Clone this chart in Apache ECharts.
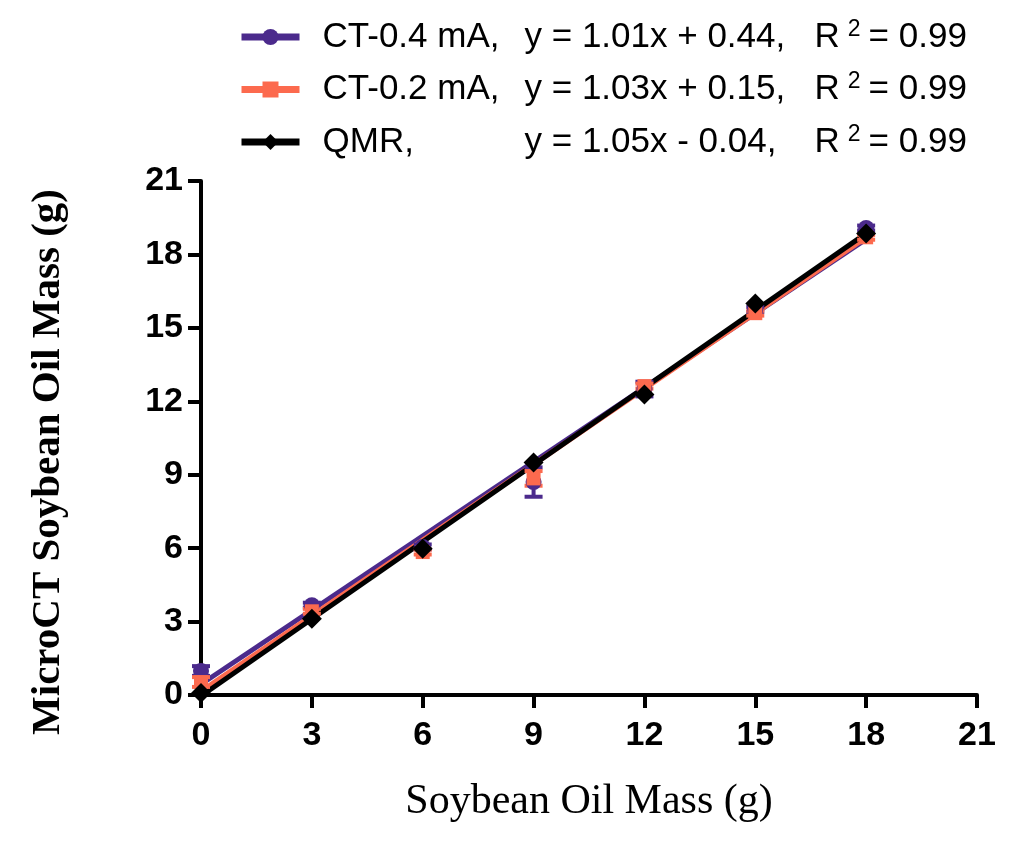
<!DOCTYPE html>
<html>
<head>
<meta charset="utf-8">
<script src="https://cdn.jsdelivr.net/npm/echarts@6/dist/echarts.min.js"></script>
<style>
  html, body { margin: 0; padding: 0; background: #fff; }
  #chart { width: 1024px; height: 849px; }
</style>
</head>
<body>
<div id="chart"></div>
<script>
// values
var seriesNames = ['CT-0.4 mA', 'CT-0.2 mA', 'QMR'];
var fitEquations = ['y = 1.01x + 0.44', 'y = 1.03x + 0.15', 'y = 1.05x - 0.04'];
var rSquared = ['0.99', '0.99', '0.99'];
var colors = ['#4b2a8c', '#fc6a4e', '#000000'];
var symbols = ['circle', 'rect', 'diamond'];
var symbolSizes = [16, 14, 20];

var xValues = [0, 3, 6, 9, 12, 15, 18];
var ct04 = [0.98, 3.67, 6.05, 8.7, 12.5, 15.75, 19.08];
var ct02 = [0.53, 3.42, 5.84, 8.85, 12.62, 15.6, 18.7];
var qmr = [0.08, 3.12, 5.98, 9.5, 12.28, 16.0, 18.85];
var ct04Err = [0.2, 0.1, 0.1, 0.6, 0.3, 0.1, 0.1];
var ct02Err = [0.2, 0.1, 0.1, 0.3, 0.1, 0.1, 0.1];

// fitted line end points, x = 0 and x = 18
var fitX = [0, 18];
var ct04Fit = [0.44, 18.62];
var ct02Fit = [0.15, 18.69];
var qmrFit = [-0.04, 18.86];

var pointSets = [ct04, ct02, qmr];
var fitSets = [ct04Fit, ct02Fit, qmrFit];
var errSets = [ct04Err, ct02Err, null];

function pairs(xs, ys) {
  return xs.map(function (x, i) { return [x, ys[i]]; });
}

var series = [];
// fit lines
fitSets.forEach(function (f, i) {
  series.push({
    name: seriesNames[i],
    type: 'line',
    data: pairs(fitX, f),
    symbol: symbols[i],
    symbolSize: symbolSizes[i],
    showSymbol: false,
    lineStyle: { color: colors[i], width: 5 },
    itemStyle: { color: colors[i] },
    silent: true,
    z: 2 + i
  });
});
// error bars
errSets.forEach(function (e, i) {
  if (!e) return;
  var pts = pointSets[i];
  series.push({
    type: 'custom',
    silent: true,
    z: 5,
    data: xValues.map(function (x, k) { return [x, pts[k] - e[k], pts[k] + e[k]]; }),
    renderItem: function (params, api) {
      var lo = api.coord([api.value(0), api.value(1)]);
      var hi = api.coord([api.value(0), api.value(2)]);
      var w = 9;
      var st = { stroke: colors[i], lineWidth: 4 };
      return {
        type: 'group',
        children: [
          { type: 'line', shape: { x1: lo[0], y1: lo[1], x2: hi[0], y2: hi[1] }, style: st },
          { type: 'line', shape: { x1: lo[0] - w, y1: lo[1], x2: lo[0] + w, y2: lo[1] }, style: st },
          { type: 'line', shape: { x1: hi[0] - w, y1: hi[1], x2: hi[0] + w, y2: hi[1] }, style: st }
        ]
      };
    }
  });
});
// points
pointSets.forEach(function (p, i) {
  series.push({
    name: seriesNames[i],
    type: 'scatter',
    data: pairs(xValues, p),
    symbol: symbols[i],
    symbolSize: symbolSizes[i],
    itemStyle: { color: colors[i], opacity: 1 },
    silent: true,
    z: 6 + i
  });
});

var axisCommon = {
  type: 'value',
  min: 0,
  max: 21,
  interval: 3,
  axisLine: { show: true, onZero: false, lineStyle: { color: '#000', width: 4 } },
  axisTick: { show: true, length: 13, lineStyle: { color: '#000', width: 4 } },
  splitLine: { show: false },
  axisLabel: {
    color: '#000',
    fontFamily: 'Liberation Sans',
    fontWeight: 'bold',
    fontSize: 34
  }
};

var legendFont = { fontFamily: 'Liberation Sans', fontSize: 35, color: '#000', lineHeight: 38 };

var chart = echarts.init(document.getElementById('chart'));
chart.setOption({
  backgroundColor: '#fff',
  animation: false,
  grid: { left: 201, right: 47, top: 181, bottom: 154 },
  legend: {
    orient: 'vertical',
    left: 233,
    top: 13,
    itemGap: 16,
    itemWidth: 58,
    itemHeight: 20,
    data: seriesNames,
    lineStyle: { width: 7 },
    formatter: function (name) {
      var i = seriesNames.indexOf(name);
      return '{n|' + name + ',}{e|' + fitEquations[i] + ',}{r|R}{s|2}{v|= ' + rSquared[i] + '}';
    },
    textStyle: {
      padding: [0, 0, 0, 18],
      rich: {
        n: Object.assign({}, legendFont, { width: 202 }),
        e: Object.assign({}, legendFont, { width: 290 }),
        r: Object.assign({}, legendFont, { padding: [0, 8, 0, 0] }),
        s: { fontFamily: 'Liberation Sans', fontSize: 23, color: '#000', lineHeight: 34, verticalAlign: 'top' },
        v: Object.assign({}, legendFont, { padding: [0, 0, 0, 8] })
      }
    }
  },
  xAxis: Object.assign({}, axisCommon, {
    name: 'Soybean Oil Mass (g)',
    nameLocation: 'middle',
    nameGap: 86,
    nameTextStyle: { fontFamily: 'Liberation Serif', fontSize: 42, color: '#000' },
    axisLabel: Object.assign({}, axisCommon.axisLabel, { margin: 24 })
  }),
  yAxis: Object.assign({}, axisCommon, {
    name: 'MicroCT Soybean Oil Mass (g)',
    nameLocation: 'middle',
    nameGap: 132,
    nameTextStyle: { fontFamily: 'Liberation Serif', fontWeight: 'bold', fontSize: 41, color: '#000', padding: [0, 48, 0, 0] },
    axisLabel: Object.assign({}, axisCommon.axisLabel, { margin: 18 })
  }),
  series: series
});
</script>
</body>
</html>
